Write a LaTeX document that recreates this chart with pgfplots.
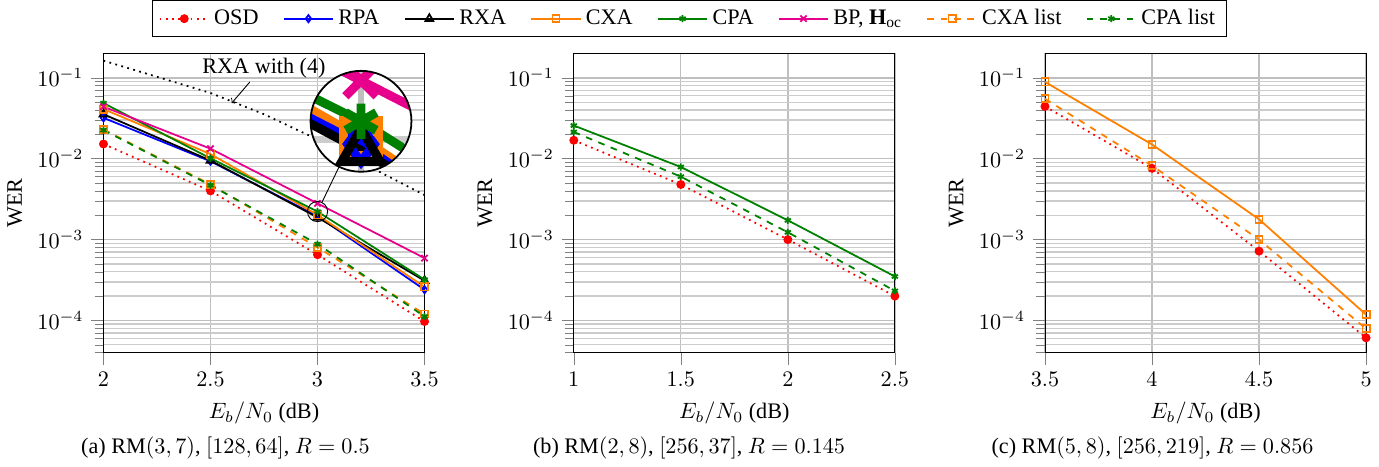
\documentclass[border=0pt]{standalone}
\usepackage{fontspec}
\setmainfont{Liberation Serif}
\usepackage{pgfplots}
\pgfplotsset{compat=1.18}
\usetikzlibrary{calc}

\definecolor{cOSD}{rgb}{1,0,0}
\definecolor{cRPA}{rgb}{0,0,1}
\definecolor{cCXA}{rgb}{1,0.5,0}
\definecolor{cCPA}{rgb}{0,0.5,0}
\definecolor{cBP}{RGB}{230,0,140}

\pgfplotsset{
  every axis/.append style={
    scale only axis, width=144.8pt, height=134.9pt,
    ymode=log, ymin=4e-5, ymax=0.2,
    grid=both,
    major grid style={gray!50, line width=0.6pt},
    minor grid style={gray!40, line width=0.6pt},
    tick pos=left, tick align=outside,
    major tick length=5.5pt, minor tick length=4pt,
    xlabel={$E_b/N_0$ (dB)}, ylabel={WER},
    clip=false,
  },
  every axis plot/.append style={thick, mark size=1.6pt},
  legend image code/.code={\draw[mark repeat=2,mark phase=2,#1] plot coordinates {(0cm,0cm)(0.39cm,0cm)(0.78cm,0cm)};},
}
\tikzset{
  osd/.style={color=cOSD, dotted, mark=*, mark options={solid}},
  rpa/.style={color=cRPA, mark=diamond, mark options={solid, fill=white}},
  rxa/.style={color=black, mark=triangle, mark size=2pt, mark options={solid, fill=white}},
  cxa/.style={color=cCXA, mark=square, mark options={solid, fill=white}},
  cpa/.style={color=cCPA, mark=asterisk, mark options={solid}},
  bp/.style={color=cBP, mark=x, mark size=2pt, mark options={solid}},
  cxal/.style={color=cCXA, dashed, mark=square, mark options={solid, fill=white}},
  cpal/.style={color=cCPA, dashed, mark=asterisk, mark options={solid}},
}

\begin{document}
\begin{tikzpicture}

% (a) RM(3,7)
\begin{axis}[xmin=2, xmax=3.5, xtick={2,2.5,3,3.5},
  legend columns=8,
  legend style={at={(1.824,1.054)}, anchor=south, draw=black,
    /tikz/every even column/.append style={column sep=9pt}}]
\addplot[black, dotted, thick, forget plot] coordinates {(2,0.163)(2.25,0.103)(2.5,0.065)(2.75,0.0355)(3,0.0173)(3.25,0.0078)(3.5,0.00355)};
\addplot[osd] coordinates {(2,0.0152)(2.5,0.0040)(3,0.00065)(3.5,0.000097)};
\addplot[rpa] coordinates {(2,0.032)(2.5,0.0093)(3,0.00195)(3.5,0.00024)};
\addplot[rxa] coordinates {(2,0.0355)(2.5,0.0095)(3,0.00188)(3.5,0.00031)};
\addplot[cxa] coordinates {(2,0.041)(2.5,0.0114)(3,0.00202)(3.5,0.00026)};
\addplot[cpa] coordinates {(2,0.0487)(2.5,0.0101)(3,0.00222)(3.5,0.00032)};
\addplot[bp] coordinates {(2,0.044)(2.5,0.0133)(3,0.0028)(3.5,0.00059)};
\addplot[cxal] coordinates {(2,0.0230)(2.5,0.0048)(3,0.00080)(3.5,0.000120)};
\addplot[cpal] coordinates {(2,0.0226)(2.5,0.0047)(3,0.00088)(3.5,0.000112)};
\legend{OSD, RPA, RXA, CXA, CPA, {BP, $\mathbf{H}_{\mathrm{oc}}$}, CXA list, CPA list}
\node at (axis cs:2.75,0.13) {RXA with (4)};
\draw[->] (axis cs:2.684,0.089) -- (axis cs:2.599,0.0487);
\coordinate (spyon) at (axis cs:3,0.00222);
\coordinate (spyin) at (axis cs:3.203,0.029);
\node[anchor=base] at (rel axis cs:0.38,-0.338) {(a) RM$(3,7)$, $[128,64]$, $R=0.5$};
\end{axis}

% (b) RM(2,8)
\begin{axis}[at={(212.1pt,0pt)}, xmin=1, xmax=2.5, xtick={1,1.5,2,2.5}]
\addplot[osd] coordinates {(1,0.0169)(1.5,0.0048)(2,0.00100)(2.5,0.000200)};
\addplot[cpa] coordinates {(1,0.0257)(1.5,0.0079)(2,0.00173)(2.5,0.00035)};
\addplot[cpal] coordinates {(1,0.0214)(1.5,0.0060)(2,0.00123)(2.5,0.000232)};
\node[anchor=base] at (rel axis cs:0.359,-0.338) {(b) RM$(2,8)$, $[256,37]$, $R=0.145$};
\end{axis}

% (c) RM(5,8)
\begin{axis}[at={(424.6pt,0pt)}, xmin=3.5, xmax=5, xtick={3.5,4,4.5,5}]
\addplot[osd] coordinates {(3.5,0.0443)(4,0.0076)(4.5,0.00072)(5,0.000061)};
\addplot[cxa] coordinates {(3.5,0.089)(4,0.015)(4.5,0.00178)(5,0.000118)};
\addplot[cxal] coordinates {(3.5,0.055)(4,0.0082)(4.5,0.0010)(5,0.000079)};
\node[anchor=base] at (rel axis cs:0.335,-0.338) {(c) RM$(5,8)$, $[256,219]$, $R=0.856$};
\end{axis}

% magnified view of panel (a) around Eb/N0 = 3 dB (factor 5)
\begin{scope}
\clip (spyin) circle (22.75pt);
\fill[white] (spyin) circle (22.75pt);
\begin{axis}[at={(spyin)}, anchor=center, width=45.5pt, height=45.5pt,
  xmin=2.9528, xmax=3.0472, ymin=0.001665, ymax=0.00296,
  xtick={3}, ytick={0.001,0.01}, minor ytick={0.002},
  xticklabels={}, yticklabels={}, xlabel={}, ylabel={},
  major tick length=0pt, minor tick length=0pt,
  axis line style={draw=none},
  major grid style={gray!50, line width=3pt},
  minor grid style={gray!40, line width=3pt},
  every axis plot/.append style={line width=4pt, mark size=8pt}]
\addplot[cxa] coordinates {(2.5,0.0114)(3,0.00202)(3.5,0.00026)};
\addplot[rpa] coordinates {(2.5,0.0093)(3,0.00195)(3.5,0.00024)};
\addplot[rxa, mark size=10pt] coordinates {(2.5,0.0095)(3,0.00188)(3.5,0.00031)};
\addplot[cpa] coordinates {(2.5,0.0101)(3,0.00222)(3.5,0.00032)};
\addplot[bp, mark size=10pt] coordinates {(2.5,0.0133)(3,0.0028)(3.5,0.00059)};
\end{axis}
\end{scope}
\draw[thick] (spyin) circle (22.75pt);
\draw (spyon) circle (4.55pt);
\draw ($(spyon)!4.55pt!(spyin)$) -- ($(spyin)!22.75pt!(spyon)$);
\end{tikzpicture}
\end{document}
